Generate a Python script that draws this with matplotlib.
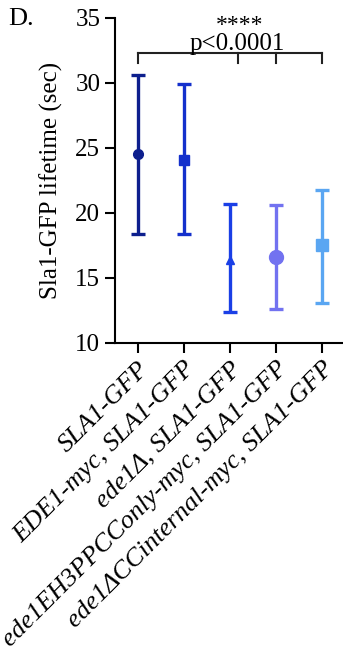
import matplotlib
matplotlib.use("Agg")
import matplotlib.pyplot as plt

plt.rcParams['font.family'] = ['Liberation Serif', 'DejaVu Serif']

# ==== data
strains = ["SLA1-GFP", "EDE1-myc, SLA1-GFP", "ede1\u0394, SLA1-GFP",
           "ede1EH3PPCConly-myc, SLA1-GFP", "ede1\u0394CCinternal-myc, SLA1-GFP"]
means = [24.5, 24.1, 16.4, 16.6, 17.5]
lower = [18.4, 18.4, 12.4, 12.6, 13.1]
upper = [30.6, 29.9, 20.7, 20.6, 21.8]
colors = ["#0d1f8e", "#1430cc", "#1a3fe6", "#7272f0", "#5aa6f2"]
markers = ["o", "s", "^", "o", "s"]
msizes = [7, 7, 6, 10, 9]

fig = plt.figure(figsize=(3.43, 6.49), dpi=100)
ax = fig.add_axes([0.335, 0.4715, 0.665, 0.5008])

for i in range(len(strains)):
    ax.errorbar(i, means[i],
                yerr=[[means[i] - lower[i]], [upper[i] - means[i]]],
                fmt=markers[i], color=colors[i], ms=msizes[i],
                elinewidth=2.4, capsize=5, capthick=2.4)

ax.set_xlim(-0.5, 4.45)
ax.set_ylim(10, 35)
ax.set_yticks([10, 15, 20, 25, 30, 35])
ax.set_xticks(range(len(strains)))
ax.set_xticklabels(strains, rotation=45, ha="right", rotation_mode="anchor",
                   style="italic", fontsize=19)
ax.tick_params(axis="y", labelsize=18, width=1.5, length=7)
ax.tick_params(axis="x", width=1.5, length=7)
ax.set_ylabel("Sla1-GFP lifetime (sec)", fontsize=18, labelpad=9)

for s in ["top", "right"]:
    ax.spines[s].set_visible(False)
for s in ["left", "bottom"]:
    ax.spines[s].set_linewidth(1.5)

# ==== significance bracket
yb = 32.3
ax.plot([0, 4], [yb, yb], color="#222222", lw=1.5, clip_on=False)
for xb in [0, 2.17, 3, 4]:
    ax.plot([xb, xb], [yb, 31.5], color="#222222", lw=1.5, clip_on=False)
ax.text(2.15, 33.0, "p<0.0001", ha="center", va="center", fontsize=18)
ax.text(2.2, 34.4, "****", ha="center", va="center", fontsize=17, clip_on=False)

fig.text(0.025, 0.97, "D.", fontsize=19, va="center", ha="left")

fig.savefig("out.png", dpi=100)
